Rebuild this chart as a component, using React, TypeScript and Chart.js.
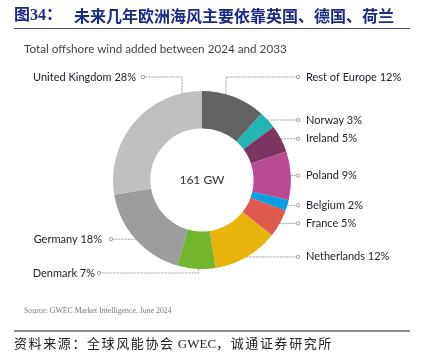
import React, { useEffect, useRef } from "react";
import { Chart, registerables } from "chart.js";

Chart.register(...registerables);

const categories = ["Rest of Europe", "Norway", "Ireland", "Poland", "Belgium", "France", "Netherlands", "Denmark", "Germany", "United Kingdom"];
const capacityGW = [18.7, 5.2, 8.0, 14.2, 3.1, 8.2, 19.2, 11.1, 28.8, 44.5];
const shareLabels = ["12%", "3%", "5%", "9%", "2%", "5%", "12%", "7%", "18%", "28%"];
const sliceColors = ["#636363", "#22b5b3", "#7b355e", "#bb4a94", "#069fe3", "#de5a4e", "#e8b30a", "#72b52f", "#9d9d9d", "#c0c0c0"];
const centerLabel = "161 GW";
const titleNo = "图34：";
const titleText = "未来几年欧洲海风主要依靠英国、德国、荷兰";
const subtitle = "Total offshore wind added between 2024 and 2033";
const sourceNote = "Source: GWEC Market Intelligence, June 2024";
const footer = "资料来源：全球风能协会 GWEC，诚通证券研究所";

// layout of leader lines: t = position along slice, elbow: none/top/bottom, dot = x offset from centre, gap = text gap
type Lay = { t: number; elbow: "none" | "top" | "bottom"; dot: number; gap: number; side: "left" | "right" };
const LAYOUT: Lay[] = [
  { t: 0.375, elbow: "top", dot: 96, gap: 8, side: "right" },
  { t: 0.5, elbow: "none", dot: 96, gap: 8, side: "right" },
  { t: 0.5, elbow: "none", dot: 96, gap: 8, side: "right" },
  { t: 0.5, elbow: "none", dot: 96, gap: 8, side: "right" },
  { t: 0.5, elbow: "none", dot: 96, gap: 8, side: "right" },
  { t: 0.5, elbow: "none", dot: 96, gap: 8, side: "right" },
  { t: 0.5, elbow: "none", dot: 96, gap: 8, side: "right" },
  { t: 0.44, elbow: "bottom", dot: -103, gap: 4, side: "left" },
  { t: 0.5, elbow: "none", dot: -91, gap: 9, side: "left" },
  { t: 0.87, elbow: "top", dot: -59, gap: 7, side: "left" },
];

const LABEL_FONT = '11px "Lato", "DejaVu Sans", sans-serif';

const leaderPlugin = {
  id: "leaders",
  afterDatasetsDraw(chart: any) {
    const ctx = chart.ctx as CanvasRenderingContext2D;
    const meta = chart.getDatasetMeta(0);
    meta.data.forEach((arc: any, i: number) => {
      const p = arc.getProps(["x", "y", "startAngle", "endAngle", "outerRadius"], true);
      const lay = LAYOUT[i];
      const a = p.startAngle + (p.endAngle - p.startAngle) * lay.t;
      const ax = p.x + Math.cos(a) * p.outerRadius;
      const ay = p.y + Math.sin(a) * p.outerRadius;
      let ly = ay;
      if (lay.elbow === "top") ly = p.y - p.outerRadius - 14;
      if (lay.elbow === "bottom") ly = p.y + p.outerRadius + 4;
      const dx = p.x + lay.dot;
      const r = 1.7;
      const endX = lay.side === "right" ? dx - r : dx + r;
      ctx.save();
      ctx.strokeStyle = "#8a8a8a";
      ctx.lineWidth = 0.8;
      ctx.setLineDash([2, 1]);
      ctx.beginPath();
      ctx.moveTo(ax, ay);
      if (lay.elbow !== "none") ctx.lineTo(ax, ly);
      ctx.lineTo(endX, ly);
      ctx.stroke();
      ctx.setLineDash([]);
      ctx.beginPath();
      ctx.arc(dx, ly, r, 0, Math.PI * 2);
      ctx.fillStyle = "#fff";
      ctx.fill();
      ctx.stroke();
      ctx.font = LABEL_FONT;
      ctx.fillStyle = "#22222c";
      ctx.textBaseline = "middle";
      const txt = categories[i] + " " + shareLabels[i];
      if (lay.side === "right") {
        ctx.textAlign = "left";
        ctx.fillText(txt, dx + lay.gap, ly);
      } else {
        ctx.textAlign = "right";
        ctx.fillText(txt, dx - lay.gap, ly);
      }
      ctx.restore();
    });
    const a0 = meta.data[0];
    if (a0) {
      ctx.save();
      ctx.font = '12px "Lato", "DejaVu Sans", sans-serif';
      ctx.fillStyle = "#333";
      ctx.textAlign = "center";
      ctx.textBaseline = "middle";
      ctx.fillText(centerLabel, a0.x, a0.y);
      ctx.restore();
    }
  },
};

export default function App() {
  const ref = useRef<HTMLCanvasElement | null>(null);
  useEffect(() => {
    if (!ref.current) return;
    const chart = new Chart(ref.current, {
      type: "doughnut",
      data: {
        labels: categories,
        datasets: [
          {
            data: capacityGW,
            backgroundColor: sliceColors,
            borderWidth: 0,
          },
        ],
      },
      options: {
        animation: false,
        responsive: false,
        cutout: "58%",
        layout: { padding: { left: 113, right: 131, top: 91, bottom: 87 } },
        plugins: { legend: { display: false }, tooltip: { enabled: false } },
      },
      plugins: [leaderPlugin],
    });
    return () => chart.destroy();
  }, []);

  const abs = (s: React.CSSProperties): React.CSSProperties => ({ position: "absolute", whiteSpace: "nowrap", ...s });
  return (
    <div style={{ position: "fixed", left: 0, top: 0, width: 422, height: 356, background: "#fff", overflow: "hidden" }}>
      <canvas ref={ref} width={422} height={356} style={{ position: "absolute", left: 0, top: 0, width: 422, height: 356 }} />
      <div style={abs({ left: 14, top: 5, fontSize: 16, lineHeight: "20px", fontWeight: 700, color: "#1b2a85", fontFamily: '"Liberation Serif", "Noto Sans CJK SC", serif' })}>{titleNo}</div>
      <div style={abs({ left: 74, top: 5, fontSize: 16, lineHeight: "20px", fontWeight: 700, color: "#1b2a85", fontFamily: '"Noto Sans CJK SC", sans-serif' })}>{titleText}</div>
      <div style={abs({ left: 14, top: 28, width: 396, height: 1, background: "#555" })} />
      <div style={abs({ left: 24, top: 41, fontSize: 11.7, lineHeight: "14px", color: "#444", fontFamily: '"Lato", sans-serif' })}>{subtitle}</div>
      <div style={abs({ left: 24, top: 306, fontSize: 7.8, lineHeight: "10px", color: "#777", fontFamily: '"Liberation Serif", serif' })}>{sourceNote}</div>
      <div style={abs({ left: 14, top: 330, width: 396, height: 2, background: "#8c8c8c" })} />
      <div style={abs({ left: 14, top: 335, fontSize: 13, lineHeight: "17px", color: "#222", fontFamily: '"Liberation Serif", "Noto Sans CJK SC", serif' })}>
        <span style={{ letterSpacing: 1.6 }}>资料来源：全球风能协会</span>
        <span> GWEC</span>
        <span style={{ letterSpacing: 1.6 }}>，诚通证券研究所</span>
      </div>
    </div>
  );
}
